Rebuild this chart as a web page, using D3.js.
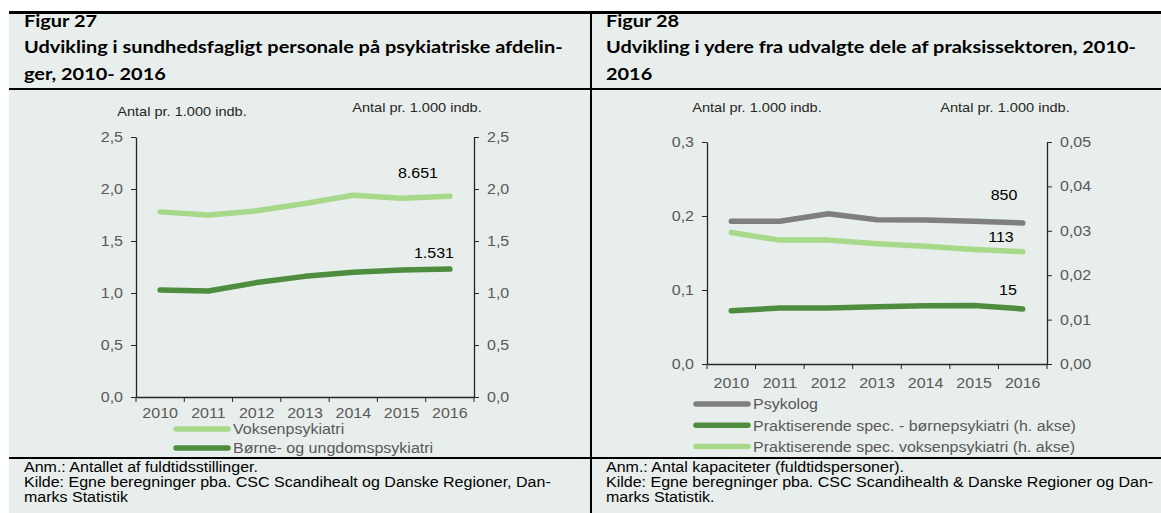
<!DOCTYPE html>
<html>
<head>
<meta charset="utf-8">
<script src="https://cdn.jsdelivr.net/npm/d3@7"></script>
<style>
  body { margin: 0; background: #fff; }
  svg { display: block; }
</style>
</head>
<body>
<div id="chart"></div>
<script>
var years = ["2010", "2011", "2012", "2013", "2014", "2015", "2016"];

// Figur 27
var voksen = [1.78, 1.75, 1.79, 1.86, 1.94, 1.91, 1.93];
var borne = [1.03, 1.02, 1.10, 1.16, 1.20, 1.22, 1.23];
var ticks27 = [0, 0.5, 1, 1.5, 2, 2.5];

// Figur 28
var psykolog = [0.193, 0.193, 0.203, 0.195, 0.1945, 0.193, 0.1905];
var praksisBorne = [0.0120, 0.0126, 0.0126, 0.0129, 0.0131, 0.0132, 0.0124];
var praksisVoksen = [0.0296, 0.0279, 0.0279, 0.0271, 0.0265, 0.0258, 0.0253];
var ticks28left = [0, 0.1, 0.2, 0.3];
var ticks28right = [0, 0.01, 0.02, 0.03, 0.04, 0.05];

var lightGreen = "#a8d889",
    darkGreen = "#4e8c3f",
    grey = "#7f7f7f",
    bg = "#e8eeeb";

var W = 1161, H = 513;
var SX = 1.12; // the source image is a bit wider than tall

var svg = d3.select("#chart")
  .append("svg")
    .attr("width", W)
    .attr("height", H);

svg.append("rect")
  .attr("x", 9).attr("y", 12)
  .attr("width", W - 9).attr("height", H - 12)
  .attr("fill", bg);

// frame lines
svg.append("rect").attr("x", 9).attr("y", 11).attr("width", W - 9).attr("height", 3).attr("fill", "#000");
svg.append("rect").attr("x", 9).attr("y", 88).attr("width", W - 9).attr("height", 2).attr("fill", "#000");
svg.append("rect").attr("x", 9).attr("y", 457).attr("width", W - 9).attr("height", 2).attr("fill", "#000");
svg.append("rect").attr("x", 590).attr("y", 11).attr("width", 2).attr("height", H - 11).attr("fill", "#000");

var fmt1 = function(d) { return d3.format(".1f")(d).replace(".", ","); };
var fmt2 = function(d) { return d3.format(".2f")(d).replace(".", ","); };

// widen text around its own anchor point
function stretch(sel) {
  sel.each(function() {
    var t = d3.select(this);
    var x = +t.attr("x") || 0, y = +t.attr("y") || 0;
    t.attr("transform", "translate(" + x + "," + y + ") scale(" + SX + ",1) translate(" + (-x) + "," + (-y) + ")");
  });
}

function titleBlock(x, lines) {
  var t = svg.append("text")
    .attr("x", x)
    .attr("y", 27)
    .style("font-family", "Lato, 'Open Sans', sans-serif")
    .style("font-weight", "bold")
    .style("font-size", "17.8px")
    .attr("fill", "#000");
  lines.forEach(function(l, i) {
    t.append("tspan").attr("x", x).attr("dy", i == 0 ? 0 : 26.5).text(l);
  });
  stretch(t);
}

function noteBlock(x, lines) {
  var t = svg.append("text")
    .attr("x", x)
    .attr("y", 472)
    .style("font-family", "'Liberation Sans', Arial, sans-serif")
    .style("font-size", "14.3px")
    .attr("fill", "#000");
  lines.forEach(function(l, i) {
    t.append("tspan").attr("x", x).attr("dy", i == 0 ? 0 : 15).text(l);
  });
  stretch(t);
}

titleBlock(24, ["Figur 27", "Udvikling i sundhedsfagligt personale på psykiatriske afdelin-", "ger, 2010- 2016"]);
titleBlock(606, ["Figur 28", "Udvikling i ydere fra udvalgte dele af praksissektoren, 2010-", "2016"]);
noteBlock(24, ["Anm.: Antallet af fuldtidsstillinger.", "Kilde: Egne beregninger pba. CSC Scandihealt og Danske Regioner, Dan-", "marks Statistik"]);
noteBlock(606, ["Anm.: Antal kapaciteter (fuldtidspersoner).", "Kilde: Egne beregninger pba. CSC Scandihealth & Danske Regioner og Dan-", "marks Statistik."]);

function drawChart(cfg) {
  var g = svg.append("g");
  var x = d3.scaleBand().domain(years).range([cfg.left, cfg.right]);
  var yL = d3.scaleLinear().domain(cfg.leftDomain).range([cfg.bottom, cfg.top]);
  var yR = d3.scaleLinear().domain(cfg.rightDomain).range([cfg.bottom, cfg.top]);

  var axL = g.append("g")
    .attr("transform", "translate(" + cfg.left + ",0)")
    .call(d3.axisLeft(yL).tickValues(cfg.leftTicks).tickFormat(cfg.leftFmt).tickSize(5).tickSizeOuter(0).tickPadding(8));
  var axR = g.append("g")
    .attr("transform", "translate(" + cfg.right + ",0)")
    .call(d3.axisRight(yR).tickValues(cfg.rightTicks).tickFormat(cfg.rightFmt).tickSize(5).tickSizeOuter(0).tickPadding(8));
  var axB = g.append("g")
    .attr("transform", "translate(0," + cfg.bottom + ")")
    .call(d3.axisBottom(x).tickSize(0).tickSizeOuter(0).tickPadding(cfg.xPad));

  // x ticks at category boundaries
  var edges = years.map(function(d) { return x(d); }).concat([x.range()[1]]);
  g.selectAll("line.xt")
    .data(edges)
    .enter()
    .append("line")
      .attr("x1", function(d) { return d; })
      .attr("x2", function(d) { return d; })
      .attr("y1", cfg.bottom)
      .attr("y2", cfg.bottom + 5)
      .attr("stroke", "#262626");

  [axL, axR, axB].forEach(function(a) {
    a.selectAll("path.domain").attr("stroke", "#262626").attr("stroke-width", 1.3);
    a.selectAll(".tick line").attr("stroke", "#262626");
    a.selectAll("text")
      .style("font-family", "'Liberation Sans', Arial, sans-serif")
      .style("font-size", "14.3px")
      .attr("fill", "#595959")
      .call(stretch);
  });

  cfg.series.forEach(function(s) {
    var y = s.axis == "right" ? yR : yL;
    var line = d3.line()
      .x(function(d, i) { return x(years[i]) + x.bandwidth() / 2; })
      .y(function(d) { return y(d); });
    g.append("path")
      .datum(s.values)
      .attr("d", line)
      .attr("fill", "none")
      .attr("stroke", s.color)
      .attr("stroke-width", 5.5)
      .attr("stroke-linecap", "round")
      .attr("stroke-linejoin", "round");
    g.append("text")
      .attr("x", s.lx)
      .attr("y", s.ly)
      .attr("text-anchor", "middle")
      .style("font-family", "'Liberation Sans', Arial, sans-serif")
      .style("font-size", "14.3px")
      .attr("fill", "#000")
      .text(s.label)
      .call(stretch);
  });

  cfg.units.forEach(function(u) {
    g.append("text")
      .attr("x", u.x)
      .attr("y", u.y)
      .attr("text-anchor", "middle")
      .style("font-family", "'Liberation Sans', Arial, sans-serif")
      .style("font-size", "13px")
      .attr("fill", "#262626")
      .text("Antal pr. 1.000 indb.")
      .call(stretch);
  });

  cfg.series.forEach(function(s, i) {
    var ly = cfg.legendY + i * cfg.legendStep;
    g.append("line")
      .attr("x1", cfg.legendX).attr("x2", cfg.legendX + 52)
      .attr("y1", ly).attr("y2", ly)
      .attr("stroke", s.color)
      .attr("stroke-width", 5.5)
      .attr("stroke-linecap", "round");
    g.append("text")
      .attr("x", cfg.legendX + 57)
      .attr("y", ly + 5.5)
      .style("font-family", "'Liberation Sans', Arial, sans-serif")
      .style("font-size", "14.3px")
      .attr("fill", "#595959")
      .text(s.name)
      .call(stretch);
  });
}

drawChart({
  left: 136, right: 474, top: 137, bottom: 397, xPad: 11,
  leftDomain: [0, 2.5], rightDomain: [0, 2.5],
  leftTicks: ticks27, rightTicks: ticks27,
  leftFmt: fmt1, rightFmt: fmt1,
  legendX: 176, legendY: 429, legendStep: 19,
  units: [{x: 182, y: 116}, {x: 417, y: 112}],
  series: [
    {name: "Voksenpsykiatri", values: voksen, color: lightGreen, axis: "left", label: "8.651", lx: 418, ly: 178},
    {name: "Børne- og ungdomspsykiatri", values: borne, color: darkGreen, axis: "left", label: "1.531", lx: 434, ly: 258}
  ]
});

drawChart({
  left: 707, right: 1047, top: 142, bottom: 364, xPad: 14,
  leftDomain: [0, 0.3], rightDomain: [0, 0.05],
  leftTicks: ticks28left, rightTicks: ticks28right,
  leftFmt: fmt1, rightFmt: fmt2,
  legendX: 696, legendY: 404, legendStep: 21.2,
  units: [{x: 757, y: 112}, {x: 1005, y: 112}],
  series: [
    {name: "Psykolog", values: psykolog, color: grey, axis: "left", label: "850", lx: 1004, ly: 200},
    {name: "Praktiserende spec. - børnepsykiatri (h. akse)", values: praksisBorne, color: darkGreen, axis: "right", label: "15", lx: 1008, ly: 295},
    {name: "Praktiserende spec. voksenpsykiatri (h. akse)", values: praksisVoksen, color: lightGreen, axis: "right", label: "113", lx: 1001, ly: 242}
  ]
});
</script>
</body>
</html>
